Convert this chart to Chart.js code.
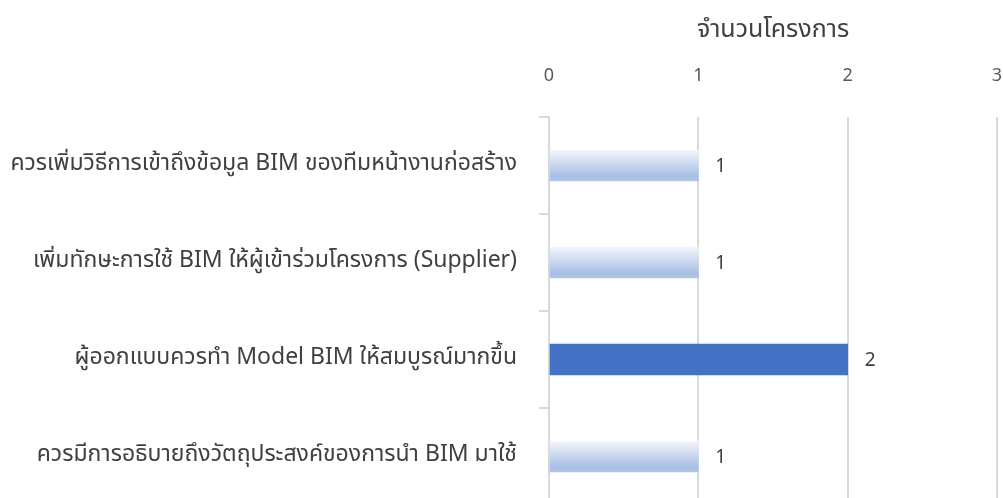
<!DOCTYPE html>
<html>
<head>
<meta charset="utf-8">
<script src="https://cdn.jsdelivr.net/npm/chart.js@4"></script>
<style>
    html, body { margin: 0; padding: 0; background: #fff; overflow: hidden; }
    #wrap { width: 1003px; height: 505px; position: relative; }
</style>
</head>
<body>
<div id="wrap"><canvas id="chart"></canvas></div>
<script>
const categories = [
    "ควรเพิ่มวิธีการเข้าถึงข้อมูล BIM ของทีมหน้างานก่อสร้าง",
    "เพิ่มทักษะการใช้ BIM ให้ผู้เข้าร่วมโครงการ (Supplier)",
    "ผู้ออกแบบควรทำ Model BIM ให้สมบูรณ์มากขึ้น",
    "ควรมีการอธิบายถึงวัตถุประสงค์ของการนำ BIM มาใช้"
];
const projectCounts = [1, 1, 2, 1];
const axisTitle = "จำนวนโครงการ";
const xTicks = [0, 1, 2, 3];

const FONT = "'Noto Sans Thai', 'Noto Sans', sans-serif";
const BAR_H = 31;

// light bars get a top-to-bottom gradient, the biggest one is solid
function barColor(ctx) {
    const chart = ctx.chart;
    const v = projectCounts[ctx.dataIndex];
    if (v === Math.max(...projectCounts)) return "#4472C4";
    if (!chart.chartArea || !chart.scales.y) return "#C5D3EE";
    const yc = chart.scales.y.getPixelForValue(ctx.dataIndex);
    const g = chart.ctx.createLinearGradient(0, yc - BAR_H / 2, 0, yc + BAR_H / 2);
    g.addColorStop(0, "#F3F6FB");
    g.addColorStop(0.85, "#A8BEE4");
    g.addColorStop(1, "#B2C5E7");
    return g;
}

const valueLabels = {
    id: "valueLabels",
    afterDatasetsDraw(chart) {
        const c = chart.ctx;
        const meta = chart.getDatasetMeta(0);
        c.save();
        c.font = "19px " + FONT;
        c.fillStyle = "#404040";
        c.textAlign = "left";
        c.textBaseline = "middle";
        meta.data.forEach((bar, i) => {
            c.fillText(String(projectCounts[i]), bar.x + 17, bar.y + 3);
        });
        c.restore();
    }
};

new Chart(document.getElementById("chart"), {
    type: "bar",
    data: {
        labels: categories,
        datasets: [{
            data: projectCounts,
            backgroundColor: barColor,
            barThickness: BAR_H,
            borderWidth: 0
        }]
    },
    options: {
        indexAxis: "y",
        responsive: true,
        maintainAspectRatio: false,
        animation: false,
        layout: { padding: { top: 0, right: 6, left: 0, bottom: 0 } },
        plugins: {
            legend: { display: false },
            tooltip: { enabled: false }
        },
        scales: {
            x: {
                position: "top",
                min: 0,
                max: 3,
                afterBuildTicks(scale) {
                    scale.ticks = xTicks.map(v => ({ value: v }));
                },
                afterFit(scale) {
                    scale.height = 117;
                    scale.paddingLeft = 0;
                    scale.paddingRight = 0;
                },
                title: {
                    display: true,
                    text: axisTitle,
                    color: "#404040",
                    font: { family: FONT, size: 25 },
                    padding: { top: 17, bottom: 0 }
                },
                ticks: {
                    color: "#595959",
                    font: { family: FONT, size: 18 },
                    padding: 29
                },
                grid: {
                    color: "#D9D9D9",
                    lineWidth: 2,
                    drawTicks: false
                },
                border: { display: false }
            },
            y: {
                afterFit(scale) {
                    scale.width = 549;
                    scale.paddingTop = 0;
                    scale.paddingBottom = 0;
                },
                ticks: {
                    color: "#404040",
                    font: { family: FONT, size: 23 },
                    padding: 22
                },
                grid: {
                    offset: true,
                    drawOnChartArea: false,
                    color: "#D9D9D9",
                    lineWidth: 2,
                    tickLength: 10
                },
                border: { color: "#D9D9D9", width: 2 }
            }
        }
    },
    plugins: [valueLabels]
});
</script>
</body>
</html>
